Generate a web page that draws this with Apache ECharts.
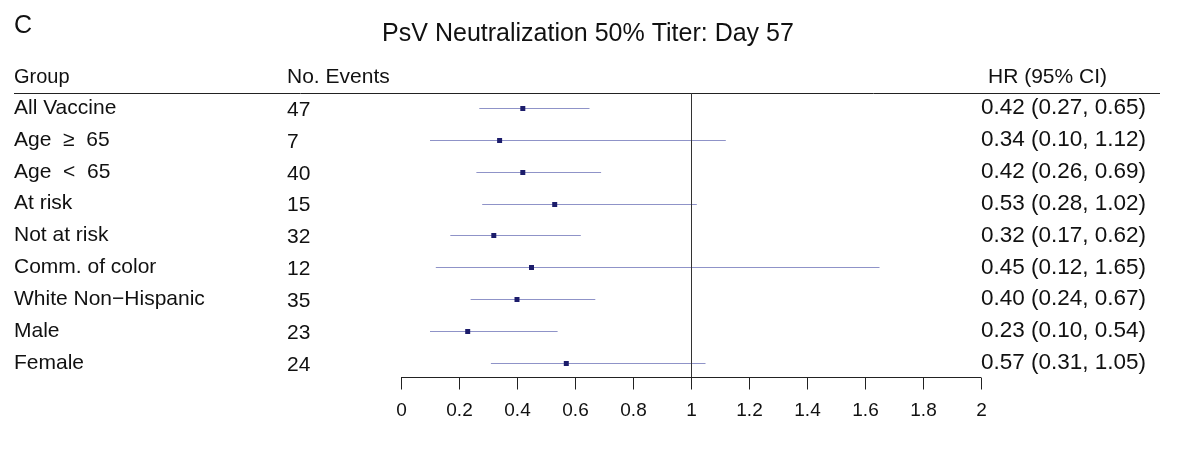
<!DOCTYPE html><html><head><meta charset="utf-8">
<script src="https://cdn.jsdelivr.net/npm/echarts@6/dist/echarts.min.js"></script>
<style>html,body{margin:0;background:#fff}#c{width:1200px;height:461px}</style></head><body><div id="c"></div>
<script>
const groups=["All Vaccine","Age  \u2265  65","Age  \u003c  65","At risk","Not at risk","Comm. of color","White Non\u2212Hispanic","Male","Female"];
const events=[47,7,40,15,32,12,35,23,24];
const hr=[0.42,0.34,0.42,0.53,0.32,0.45,0.40,0.23,0.57];
const lo=[0.27,0.10,0.26,0.28,0.17,0.12,0.24,0.10,0.31];
const hi=[0.65,1.12,0.69,1.02,0.62,1.65,0.67,0.54,1.05];
const xTicks=[0,0.2,0.4,0.6,0.8,1,1.2,1.4,1.6,1.8,2];
const F='Liberation Sans, Arial, sans-serif';
const chart=echarts.init(document.getElementById('c'));
const data=groups.map((g,i)=>[i,hr[i],lo[i],hi[i]]);
chart.setOption({animation:false,
grid:{left:401,right:219,top:93,bottom:84},
xAxis:{type:'value',min:0,max:2,interval:0.2,axisLine:{show:false},axisTick:{show:false},splitLine:{show:false},axisLabel:{show:false}},
yAxis:{type:'value',min:-0.47,max:8.44,inverse:true,show:false},
series:[{type:'custom',data:data,renderItem:(p,api)=>{
 const y=api.value(0);const a=api.coord([api.value(2),y]),b=api.coord([api.value(3),y]),c=api.coord([api.value(1),y]);
 const yy=Math.round(a[1])+0.5;
 return {type:'group',children:[
 {type:'line',shape:{x1:a[0],y1:yy,x2:b[0],y2:yy},style:{stroke:'#8f93c8',lineWidth:1}},
 {type:'rect',shape:{x:c[0]-2.5,y:yy-2.5,width:5,height:5},style:{fill:'#1c1c6b'}}]};},
 encode:{x:[1,2,3],y:0}},
 {type:'line',data:[],markLine:{silent:true,symbol:'none',label:{show:false},lineStyle:{color:'#333',width:1,type:'solid'},data:[[{coord:[1,-0.47]},{coord:[1,8.44]}]]}}]
});
const g=[];
const tx=(x,y,t,s,align)=>g.push({type:'text',x:x,y:y,style:{text:t,fontSize:s||21,fontFamily:F,fill:'#111',textAlign:align||'left',textVerticalAlign:'middle'}});
tx(14,26,'C',25);
tx(588,34,'PsV Neutralization 50% Titer: Day 57',25,'center');
tx(14,77,'Group',20);tx(287,77,'No. Events',21);tx(988,77,'HR (95% CI)',21);
g.push({type:'line',shape:{x1:14,y1:93.5,x2:1160,y2:93.5},style:{stroke:'#222',lineWidth:1}});
groups.forEach((n,i)=>{const y=chart.convertToPixel({gridIndex:0},[0,i])[1];
 tx(14,y,n,21);tx(287,y+2,String(events[i]),21);
 tx(981,y,hr[i].toFixed(2)+' ('+lo[i].toFixed(2)+', '+hi[i].toFixed(2)+')',22.5);});
const axY=377.5;
const x0=chart.convertToPixel({gridIndex:0},[0,0])[0],x1=chart.convertToPixel({gridIndex:0},[2,0])[0];
g.push({type:'line',shape:{x1:x0,y1:axY,x2:x1,y2:axY},style:{stroke:'#222',lineWidth:1}});
xTicks.forEach(v=>{const x=Math.round(chart.convertToPixel({gridIndex:0},[v,0])[0])+0.5;
 g.push({type:'line',shape:{x1:x,y1:axY,x2:x,y2:axY+12},style:{stroke:'#222',lineWidth:1}});
 tx(x,411,String(v),19,'center');});
chart.setOption({graphic:g});
</script></body></html>
